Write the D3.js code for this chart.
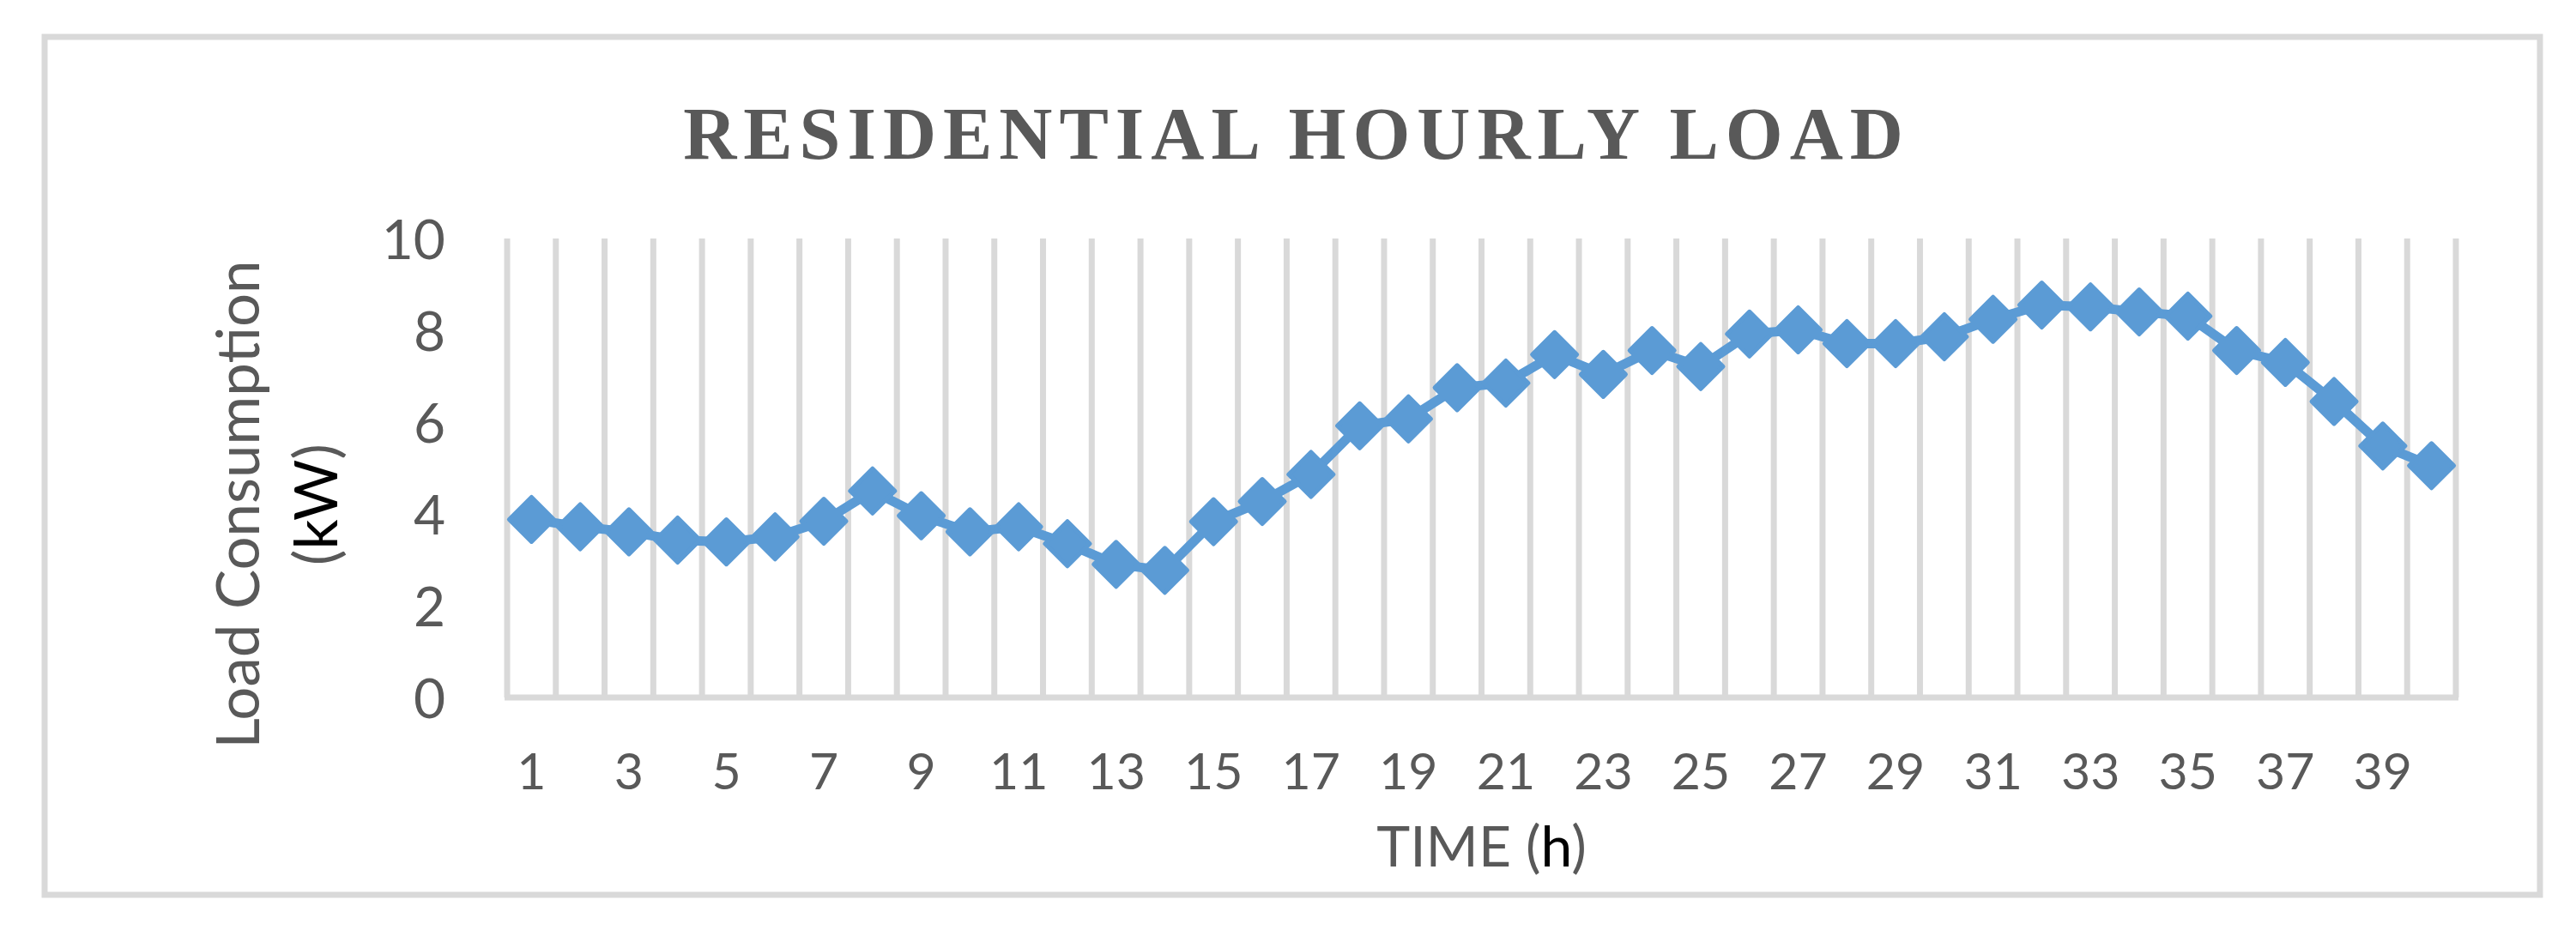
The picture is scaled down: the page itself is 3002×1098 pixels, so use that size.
<!DOCTYPE html>
<html>
<head>
<meta charset="utf-8">
<script src="https://cdn.jsdelivr.net/npm/d3@7"></script>
<style>
    body { margin: 0; background: #ffffff; }
    .tickText { font-family: Lato, "Open Sans", sans-serif; fill: #595959; }
    .axisTitle { font-family: Lato, "Open Sans", sans-serif; fill: #595959; font-size: 66px; }
    .chartTitle { font-family: "Liberation Serif", "DejaVu Serif", serif; font-weight: bold; fill: #595959; font-size: 86px; letter-spacing: 8px; }
</style>
</head>
<body>
<div id="chart"></div>
<script>

// hours on the category axis
let hours = [1, 2, 3, 4, 5, 6, 7, 8, 9, 10, 11, 12, 13, 14, 15, 16, 17, 18, 19, 20,
    21, 22, 23, 24, 25, 26, 27, 28, 29, 30, 31, 32, 33, 34, 35, 36, 37, 38, 39, 40];

// load consumption in kW
let loadKW = [3.88, 3.72, 3.61, 3.43, 3.39, 3.50, 3.84, 4.50, 3.96, 3.61,
    3.72, 3.35, 2.90, 2.77, 3.83, 4.27, 4.86, 5.92, 6.07, 6.75,
    6.85, 7.47, 7.04, 7.56, 7.21, 7.92, 8.01, 7.71, 7.71, 7.86,
    8.24, 8.55, 8.51, 8.40, 8.31, 7.56, 7.30, 6.45, 5.48, 5.05];

let yTicks = [0, 2, 4, 6, 8, 10];
let xTickLabels = [1, 3, 5, 7, 9, 11, 13, 15, 17, 19, 21, 23, 25, 27, 29, 31, 33, 35, 37, 39];

let width = 3002;
let height = 1098;
let plot = {left: 591, right: 2862, top: 278, bottom: 813};
let lineColor = "#5b9bd5";
let gridColor = "#d9d9d9";

let svg = d3.select("#chart").append("svg")
    .attr("width", width)
    .attr("height", height);

svg.append("rect")
    .attr("width", width)
    .attr("height", height)
    .attr("fill", "#ffffff");

//outer chart border
svg.append("rect")
    .attr("x", 52)
    .attr("y", 43)
    .attr("width", 2908)
    .attr("height", 1000)
    .attr("fill", "none")
    .attr("stroke", gridColor)
    .attr("stroke-width", 7);

let xScale = d3.scaleBand()
    .domain(hours)
    .range([plot.left, plot.right])
    .padding(0);

let yScale = d3.scaleLinear()
    .domain([0, 10])
    .range([plot.bottom, plot.top]);

//vertical gridlines sit between the categories
let gridX = hours.map(function (h) { return xScale(h); });
gridX.push(xScale(hours[hours.length - 1]) + xScale.bandwidth());

svg.append("g").selectAll("line")
    .data(gridX)
    .enter().append("line")
    .attr("x1", function (d) { return d; })
    .attr("x2", function (d) { return d; })
    .attr("y1", yScale(10))
    .attr("y2", yScale(0))
    .attr("stroke", gridColor)
    .attr("stroke-width", 7);

//bottom axis line
svg.append("line")
    .attr("x1", plot.left - 3)
    .attr("x2", plot.right + 3)
    .attr("y1", yScale(0))
    .attr("y2", yScale(0))
    .attr("stroke", gridColor)
    .attr("stroke-width", 7);

//y axis labels
let yAxis = svg.append("g")
    .attr("transform", "translate(" + plot.left + ",0)")
    .call(d3.axisLeft(yScale).tickValues(yTicks).tickSize(0).tickPadding(72));
yAxis.select(".domain").remove();
yAxis.selectAll("text")
    .attr("class", "tickText")
    .attr("dy", "0.36em")
    .style("font-size", "64px");

//x axis labels, every second hour
let xAxis = svg.append("g")
    .attr("transform", "translate(0," + plot.bottom + ")")
    .call(d3.axisBottom(xScale).tickValues(xTickLabels).tickSize(0).tickPadding(65));
xAxis.select(".domain").remove();
xAxis.selectAll("text")
    .attr("class", "tickText")
    .style("font-size", "59px");

//the load line
let line = d3.line()
    .x(function (d, i) { return xScale(hours[i]) + xScale.bandwidth() / 2; })
    .y(function (d) { return yScale(d); });

svg.append("path")
    .datum(loadKW)
    .attr("d", line)
    .attr("fill", "none")
    .attr("stroke", lineColor)
    .attr("stroke-width", 11)
    .attr("stroke-linejoin", "round");

//diamond markers
let diamond = d3.symbol().type(d3.symbolSquare).size(1352);
svg.append("g").selectAll("path")
    .data(loadKW)
    .enter().append("path")
    .attr("d", diamond)
    .attr("transform", function (d, i) {
        let cx = xScale(hours[i]) + xScale.bandwidth() / 2;
        return "translate(" + cx + "," + yScale(d) + ") rotate(45)";
    })
    .attr("fill", lineColor)
    .attr("stroke", lineColor)
    .attr("stroke-width", 5)
    .attr("stroke-linejoin", "round");

//title
svg.append("text")
    .attr("class", "chartTitle")
    .attr("x", 1511)
    .attr("y", 185)
    .attr("text-anchor", "middle")
    .text("RESIDENTIAL HOURLY LOAD");

//x axis title
let xTitle = svg.append("text")
    .attr("class", "axisTitle")
    .attr("x", (plot.left + plot.right) / 2)
    .attr("y", 1010)
    .attr("text-anchor", "middle");
xTitle.append("tspan").text("TIME (");
xTitle.append("tspan").attr("fill", "#000000").text("h");
xTitle.append("tspan").text(")");

//y axis title, two lines
let yTitle = svg.append("text")
    .attr("class", "axisTitle")
    .attr("transform", "translate(302,588) rotate(-90)")
    .attr("text-anchor", "middle")
    .style("font-size", "69px");
yTitle.append("tspan").attr("x", 0).attr("y", 0).text("Load Consumption");
let line2 = yTitle.append("tspan").attr("x", 0).attr("y", 91);
line2.append("tspan").text("(");
line2.append("tspan").attr("fill", "#000000").text("kW");
line2.append("tspan").text(")");

</script>
</body>
</html>
